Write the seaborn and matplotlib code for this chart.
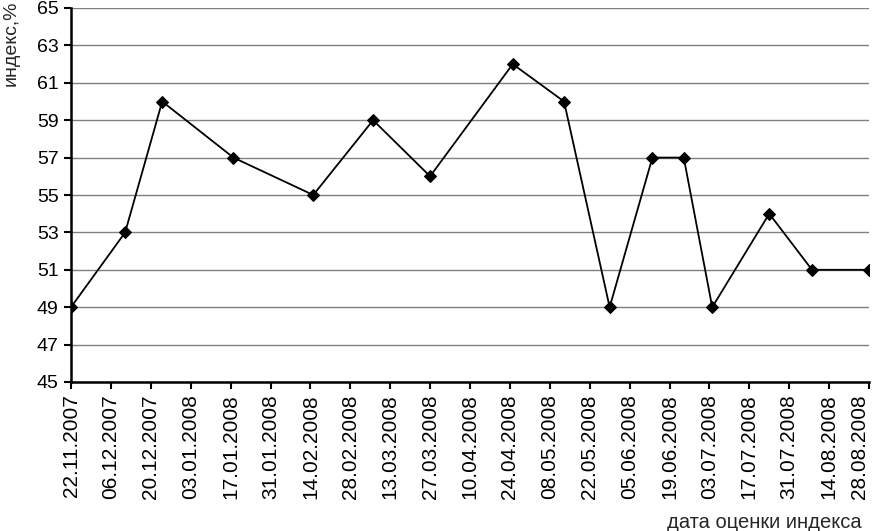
import matplotlib
matplotlib.use("Agg")
import matplotlib.pyplot as plt
import seaborn as sns
import pandas as pd

dates = ["22.11.2007", "11.12.2007", "24.12.2007", "18.01.2008", "15.02.2008",
         "07.03.2008", "27.03.2008", "25.04.2008", "13.05.2008", "29.05.2008",
         "13.06.2008", "24.06.2008", "04.07.2008", "24.07.2008", "08.08.2008",
         "28.08.2008"]
values = [49, 53, 60, 57, 55, 59, 56, 62, 60, 49, 57, 57, 49, 54, 51, 51]
tick_start = "22.11.2007"
tick_end = "28.08.2008"
y_ticks = list(range(45, 66, 2))
y_label = "индекс,%"
x_label = "дата оценки индекса"

df = pd.DataFrame({"date": pd.to_datetime(dates, format="%d.%m.%Y"), "value": values})

sns.set_theme(style="white")
plt.rcParams["font.family"] = ["Liberation Sans", "DejaVu Sans"]

fig = plt.figure(figsize=(8.76, 5.31), dpi=100)
ax = fig.add_axes([71/876, 1 - 382/531, (869-71)/876, (382-8)/531])

sns.lineplot(data=df, x="date", y="value", ax=ax, color="black", linewidth=1.3,
             marker="D", markersize=6.5, markeredgecolor="black", markerfacecolor="black")

t0 = pd.to_datetime(tick_start, format="%d.%m.%Y")
t1 = pd.to_datetime(tick_end, format="%d.%m.%Y")
xt = pd.date_range(t0, t1, freq="14D")
ax.set_xlim(t0, t1)
ax.set_xticks(xt)
labels = ax.set_xticklabels([d.strftime("%d.%m.%Y") for d in xt], rotation=90, fontsize=15)
labels[-1].set_horizontalalignment("right")  # keep last label inside the canvas
ax.set_ylim(45, 65)
ax.set_yticks(y_ticks)
ax.set_yticklabels([str(v) for v in y_ticks], fontsize=14)

ax.yaxis.grid(True, color="#808080", linewidth=1.0)
ax.xaxis.grid(False)
for s in ["top", "right"]:
    ax.spines[s].set_visible(False)
for s in ["left", "bottom"]:
    ax.spines[s].set_color("black")
    ax.spines[s].set_linewidth(1.8)
ax.tick_params(axis="both", direction="out", length=5, width=1.5, color="black",
               pad=4, bottom=True, left=True, labelcolor="black")
ax.set_xlabel("")
ax.set_ylabel("")

fig.text(11/876, 1 - 1/531, y_label, rotation=90, ha="center", va="top", fontsize=14)
fig.text(862/876, 1 - 528/531, x_label, ha="right", va="baseline", fontsize=14.5)

fig.savefig("out.png", dpi=100)
